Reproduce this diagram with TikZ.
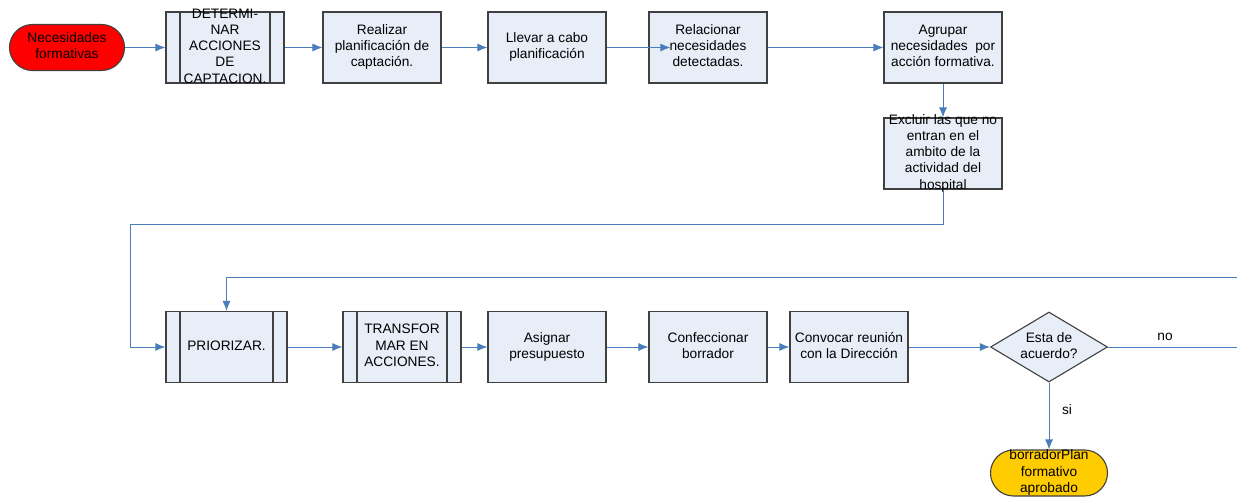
\documentclass[tikz,border=0pt]{standalone}
\usepackage{fontspec}
\setmainfont{Liberation Sans}
\usetikzlibrary{arrows.meta,shapes.geometric}
\definecolor{azul}{RGB}{74,126,187}
\definecolor{caja}{RGB}{232,238,247}
\definecolor{borde}{RGB}{64,64,64}
\definecolor{amarillo}{RGB}{255,204,0}
\newcommand{\lineas}[1]{\smash{\raisebox{-3.5pt}{\begin{tabular}{@{}c@{}}#1\end{tabular}}}}
\tikzset{
  proc/.style={draw=borde, line width=1.1pt, fill=caja, minimum width=118pt, minimum height=71pt, inner sep=0pt, font=\fontsize{13.7}{16.3}\selectfont},
  subproc/.style={proc, path picture={
      \draw[borde, line width=1.1pt] ([xshift=14pt]path picture bounding box.north west) -- ([xshift=14pt]path picture bounding box.south west);
      \draw[borde, line width=1.1pt] ([xshift=-14pt]path picture bounding box.north east) -- ([xshift=-14pt]path picture bounding box.south east);}},
  termino/.style={draw=borde, line width=1.1pt, rounded corners=23pt, minimum width=115pt, minimum height=46pt, inner sep=0pt, font=\fontsize{13.7}{16.3}\selectfont},
  decision/.style={diamond, aspect=1.67, draw=borde, line width=1.1pt, fill=caja, minimum width=117pt, minimum height=70pt, inner sep=0pt, font=\fontsize{13.7}{16.3}\selectfont},
  flecha/.style={draw=azul, line width=1pt, -{Latex[length=10pt,width=8pt]}},
  etiq/.style={font=\fontsize{13.7}{16.3}\selectfont}
}
\begin{document}
\begin{tikzpicture}[x=1pt,y=-1pt]
  \useasboundingbox (0,0) rectangle (1237,497);

  % fila de arriba
  \node[termino, fill=red] (ini) at (67,47.5) {\lineas{Necesidades\\formativas}};
  \node[subproc] (det) at (225,47.5) {\lineas{DETERMI-\\NAR\\ACCIONES\\DE\\CAPTACION.}};
  \node[proc] (real) at (382,47.5) {\lineas{Realizar\\planificación de\\captación.}};
  \node[proc] (llev) at (547,47.5) {\lineas{Llevar a cabo\\planificación}};
  \node[proc] (rel) at (708,47.5) {\lineas{Relacionar\\necesidades\\detectadas.}};
  \node[proc] (agr) at (943,47.5) {\lineas{Agrupar\\necesidades\ \ por\\acción formativa.}};
  \node[proc] (excl) at (943,153.5) {\lineas{Excluir las que no\\entran en el\\ambito de la\\actividad del\\hospital}};

  % fila de abajo
  \node[subproc, minimum width=121pt] (prior) at (226.5,347) {\lineas{PRIORIZAR.}};
  \node[subproc] (transf) at (402,347) {\lineas{TRANSFOR\\MAR EN\\ACCIONES.}};
  \node[proc] (asig) at (547,347) {\lineas{Asignar\\presupuesto}};
  \node[proc] (conf) at (708,347) {\lineas{Confeccionar\\borrador}};
  \node[proc] (conv) at (849,347) {\lineas{Convocar reunión\\con la Dirección}};
  \node[decision] (acuerdo) at (1049,347) {\lineas{Esta de\\acuerdo?}};
  \node[termino, fill=amarillo, minimum width=117pt] (fin) at (1049,473) {\lineas{borradorPlan\\formativo\\aprobado}};

  \coordinate (vuelta1) at (130,225);
  \coordinate (vuelta2) at (1250,277);

  \draw[flecha] (ini) -- (det);
  \draw[flecha] (det) -- (real);
  \draw[flecha] (real) -- (llev);
  \draw[flecha, shorten >=-22pt] (llev) -- (rel);
  \draw[flecha] (rel) -- (agr);
  \draw[flecha] (agr) -- (excl);
  \draw[flecha] (excl.south) |- (vuelta1) |- (prior.west);
  \draw[flecha] (prior) -- (transf);
  \draw[flecha] (transf) -- (asig);
  \draw[flecha] (asig) -- (conf);
  \draw[flecha] (conf) -- (conv);
  \draw[flecha] (conv) -- (acuerdo);
  \draw[flecha] (acuerdo.east) -| (vuelta2) -| (prior.north);
  \draw[flecha] (acuerdo.south) -- (fin.north);

  \node[etiq] (no) at (1165,337) {no};
  \node[etiq] (si) at (1067,410) {si};
\end{tikzpicture}
\end{document}
